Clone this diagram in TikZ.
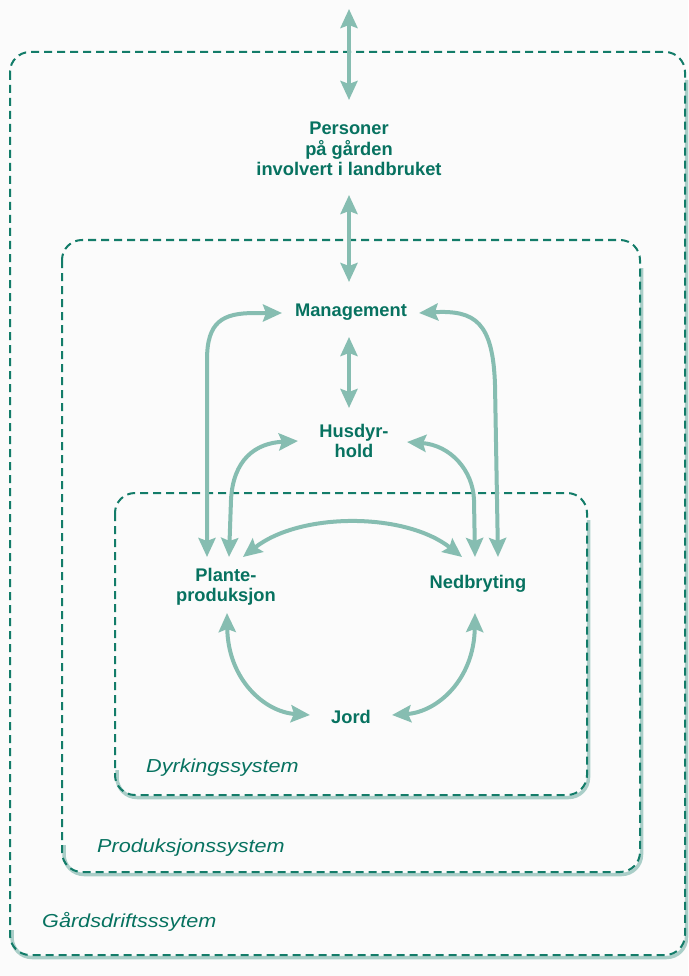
\documentclass[tikz,border=0pt]{standalone}
\usepackage{fontspec}
\setmainfont{Liberation Sans}
\newfontfamily\labfont{Liberation Sans}[FakeStretch=1.15]
\usetikzlibrary{arrows.meta}
\definecolor{txtc}{HTML}{077260}
\definecolor{arrc}{HTML}{86BDB1}
\definecolor{boxc}{HTML}{137C69}
\definecolor{bgc}{HTML}{FBFBFB}
\tikzset{
  lbl/.style={font=\fontsize{18.3}{20.5}\selectfont\bfseries, text=txtc, align=center, inner sep=0pt},
  syslbl/.style={font=\labfont\fontsize{18.8}{22}\selectfont\itshape, text=txtc, anchor=west, inner sep=0pt},
  conn/.style={line width=4pt, draw=arrc, {Stealth[length=19pt,width=17pt,inset=3pt]}-{Stealth[length=19pt,width=17pt,inset=3pt]}},
  sysbox/.style={draw=boxc, line width=2pt, dash pattern=on 8pt off 5pt, rounded corners=20pt},
  shad/.style={draw=boxc, line width=3.5pt, opacity=0.35, rounded corners=20pt}
}
\begin{document}
\begin{tikzpicture}[x=1pt,y=-1pt]
\fill[bgc] (0,0) rectangle (688,976);
\useasboundingbox (0,0) rectangle (688,976);

% shadows (bottom and right edges)
\draw[shad] (686.5,80) -- (686.5,957.5) -- (12,957.5) -- (12,930);
\draw[shad] (641.5,268) -- (641.5,874.5) -- (64,874.5) -- (64,845);
\draw[shad] (588.5,520) -- (588.5,797.5) -- (117,797.5) -- (117,770);

% system boxes
\draw[sysbox] (10,52) rectangle (685,955);
\draw[sysbox] (62,240) rectangle (640,872);
\draw[sysbox] (115,493) rectangle (587,795);

% labels
\node[syslbl] (dyrk) at (146,768) {Dyrkingssystem};
\node[syslbl] (prod) at (97,848) {Produksjonssystem};
\node[syslbl] (gard) at (42,922) {Gårdsdriftsssytem};

% nodes
\node[lbl] (pers) at (349,149) {Personer\\på gården\\involvert i landbruket};
\node[lbl] (mgmt) at (351,312) {Management};
\node[lbl] (hus) at (354,441) {Husdyr-\\hold};
\node[lbl] (plante) at (226,587) {Plante-\\produksjon};
\node[lbl] (ned) at (478,584) {Nedbryting};
\node[lbl] (jord) at (351,717) {Jord};

% connector end points
\coordinate (outside) at (349,9);
\coordinate (persT) at (349,100);
\coordinate (persB) at (349,195);
\coordinate (mgmtT) at (349,282);
\coordinate (mgmtB) at (349,337);
\coordinate (husT) at (349,408);
\coordinate (mgmtL) at (282,313);
\coordinate (mgmtR) at (419,313);
\coordinate (husL) at (298,441);
\coordinate (husR) at (407,442);
\coordinate (plTa) at (207,557);
\coordinate (plTb) at (229,557);
\coordinate (plTc) at (243,557);
\coordinate (plB) at (227,613);
\coordinate (neTa) at (498,557);
\coordinate (neTb) at (475,557);
\coordinate (neTc) at (462,557);
\coordinate (neB) at (475,613);
\coordinate (jordL) at (310,715);
\coordinate (jordR) at (392,715);

% connectors
\draw[conn] (outside) -- (persT);
\draw[conn] (persB) -- (mgmtT);
\draw[conn] (mgmtB) -- (husT);
\draw[conn] (plTa) -- (207,360) .. controls (207,322) and (222,313) .. (255,313) -- (mgmtL);
\draw[conn] (mgmtR) .. controls (475,310) and (493,322) .. (495,385) -- (neTa);
\draw[conn] (plTb) -- (231,500) .. controls (233,460) and (255,443) .. (husL);
\draw[conn] (husR) .. controls (450,445) and (473,470) .. (474,500) -- (neTb);
\draw[conn] (plTc) .. controls (300,512) and (405,512) .. (neTc);
\draw[conn] (plB) .. controls (228,680) and (265,712) .. (jordL);
\draw[conn] (neB) .. controls (474,680) and (437,712) .. (jordR);
\end{tikzpicture}
\end{document}
